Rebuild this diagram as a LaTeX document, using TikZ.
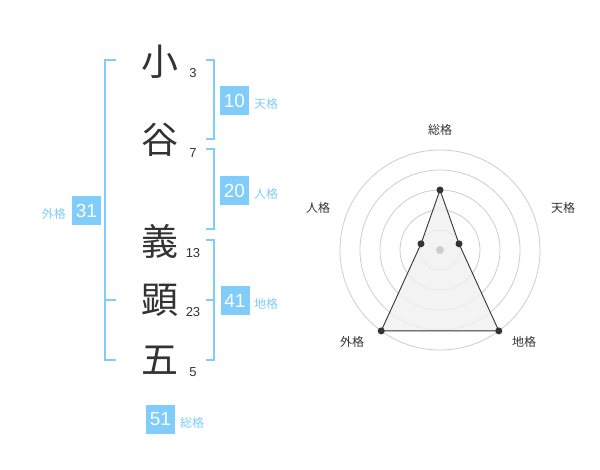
\documentclass[tikz,border=0pt]{standalone}
\usepackage{fontspec}
\setmainfont{Liberation Sans}
\newfontfamily\jp{Noto Sans CJK JP}
\definecolor{blu}{RGB}{128,204,250}
\definecolor{ink}{RGB}{51,51,51}
\definecolor{ring}{RGB}{205,205,205}
\definecolor{area}{RGB}{240,240,240}
\begin{document}
\begin{tikzpicture}[x=1pt,y=-1pt,
  kanji/.style={font=\jp\fontsize{37}{37}\selectfont, text=ink, inner sep=0pt},
  strokes/.style={font=\fontsize{13}{13}\selectfont, text=ink, inner sep=0pt},
  valbox/.style={fill=blu, text=white, minimum width=29pt, minimum height=29pt, inner sep=0pt, font=\fontsize{19}{19}\selectfont},
  kaku/.style={font=\jp\fontsize{12}{12}\selectfont, text=blu, inner sep=0pt},
  brk/.style={draw=blu, line width=2pt},
  rlabel/.style={font=\jp\fontsize{12}{12}\selectfont, text=ink, inner sep=0pt},
  dot/.style={circle, fill=ink, inner sep=0pt, minimum size=7pt}]
\useasboundingbox (0,0) rectangle (600,470);
% characters
\node[kanji] (c1) at (160,62) {小};
\node[kanji] (c2) at (160,140) {谷};
\node[kanji] (c3) at (160,241) {義};
\node[kanji] (c4) at (160,300) {顕};
\node[kanji] (c5) at (160,360) {五};
% stroke counts
\node[strokes] (n1) at (193,73) {3};
\node[strokes] (n2) at (193,153) {7};
\node[strokes] (n3) at (193,253) {13};
\node[strokes] (n4) at (193,312) {23};
\node[strokes] (n5) at (193,372) {5};
% brackets
\draw[brk] (116,60) -- (105,60) -- (105,360) -- (116,360);
\draw[brk] (105,300) -- (116,300);
\draw[brk] (206,60) -- (214,60) -- (214,139) -- (206,139);
\draw[brk] (206,149) -- (214,149) -- (214,229) -- (206,229);
\draw[brk] (206,240) -- (214,240) -- (214,360) -- (206,360);
\draw[brk] (206,300) -- (214,300);
% value boxes
\node[valbox] (b10) at (234.5,100.5) {10};
\node[kaku, anchor=west] (k10) at (254,104) {天格};
\node[valbox] (b20) at (234.5,190.5) {20};
\node[kaku, anchor=west] (k20) at (254,194) {人格};
\node[valbox] (b31) at (86.5,210.5) {31};
\node[kaku, anchor=east] (k31) at (66,214) {外格};
\node[valbox] (b41) at (235,300.5) {41};
\node[kaku, anchor=west] (k41) at (254,304) {地格};
\node[valbox] (b51) at (160.5,419.5) {51};
\node[kaku, anchor=west] (k51) at (180,423) {総格};
% radar
\coordinate (ctr) at (440,250);
\foreach \r in {20,40,60,80,100} \draw[ring, line width=0.8pt] (ctr) circle[radius=\r];
\coordinate (p1) at (440,190);
\coordinate (p2) at (459.0,243.8);
\coordinate (p3) at (498.8,330.9);
\coordinate (p4) at (381.2,330.9);
\coordinate (p5) at (421.0,243.8);
\fill[area, fill opacity=0.8] (p1) -- (p2) -- (p3) -- (p4) -- (p5) -- cycle;
\draw[ink, line width=0.9pt] (p1) -- (p2) -- (p3) -- (p4) -- (p5) -- cycle;
\fill[ring] (ctr) circle[radius=4];
\foreach \p in {p1,p2,p3,p4,p5} \node[dot] at (\p) {};
\node[rlabel] (l1) at (440,130) {総格};
\node[rlabel] (l2) at (563,208) {天格};
\node[rlabel] (l3) at (524,342) {地格};
\node[rlabel] (l4) at (352,342) {外格};
\node[rlabel] (l5) at (318,208) {人格};
\end{tikzpicture}
\end{document}
